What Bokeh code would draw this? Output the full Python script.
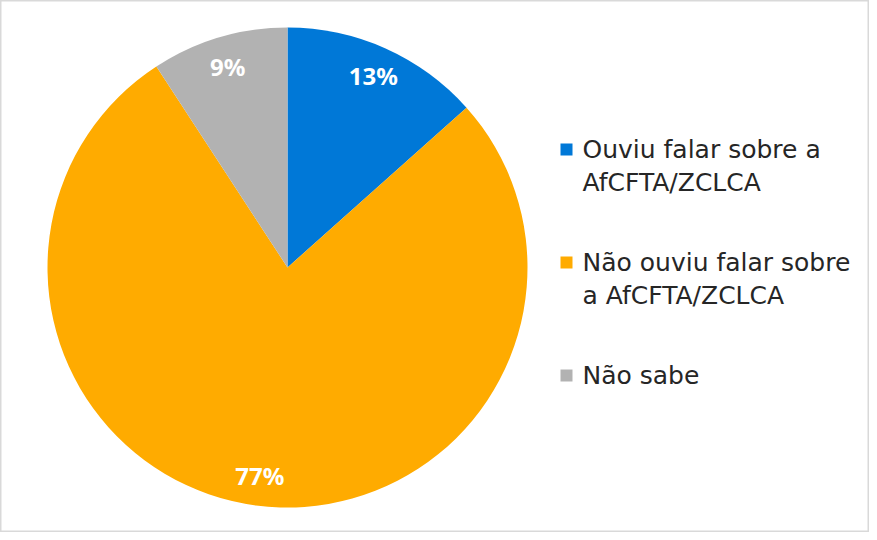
import math
from bokeh.plotting import figure
from bokeh.models import Range1d, ColumnDataSource
from bokeh.core.properties import value
from bokeh.embed import file_html
from bokeh.resources import INLINE

categories = ["Ouviu falar sobre a\nAfCFTA/ZCLCA", "Não ouviu falar sobre\na AfCFTA/ZCLCA", "Não sabe"]
shares = [13.4, 77.4, 9.2]
colors = ["#0078D7", "#FFAB00", "#B2B2B2"]

W, H = 869, 532
p = figure(width=W, height=H, output_backend="svg", toolbar_location=None,
           x_range=Range1d(0, W), y_range=Range1d(0, H), min_border=0)
p.axis.visible = False
p.grid.visible = False
p.outline_line_color = "#D9D9D9"
p.outline_line_width = 2
p.background_fill_color = "white"

cx, cy, R = 287, 265, 240
total = sum(shares)
starts, ends, lx, ly, labels = [], [], [], [], []
a = math.pi / 2
for s in shares:
    sweep = 2 * math.pi * s / total
    starts.append(a - sweep)
    ends.append(a)
    mid = a - sweep / 2
    lx.append(cx + 210 * math.cos(mid))
    ly.append(cy + 210 * math.sin(mid))
    labels.append(f"{round(s)}%")
    a -= sweep

src = ColumnDataSource(dict(start=starts, end=ends, color=colors))
p.wedge(x=cx, y=cy, radius=R, start_angle="start", end_angle="end", color="color",
        line_color=None, source=src)
p.text(x=lx, y=ly, text=labels, text_color="white", text_font=value("Noto Sans"),
       text_font_style="bold", text_font_size="24px", text_align="center", text_baseline="middle")

# legend
leg_top = [540 - 157, 540 - 270, 540 - 383]
line_h = 33
tx, ty, tt = [], [], []
for i, lab in enumerate(categories):
    for j, line in enumerate(lab.split("\n")):
        tx.append(582)
        ty.append(leg_top[i] - j * line_h)
        tt.append(line)
p.rect(x=[566] * 3, y=leg_top, width=12, height=12, color=colors, line_color=None)
p.text(x=tx, y=ty, text=tt, text_color="#262626", text_font=value("DejaVu Sans"),
       text_font_size="25px", text_align="left", text_baseline="middle")

open("out.html", "w").write(file_html(p, INLINE))
